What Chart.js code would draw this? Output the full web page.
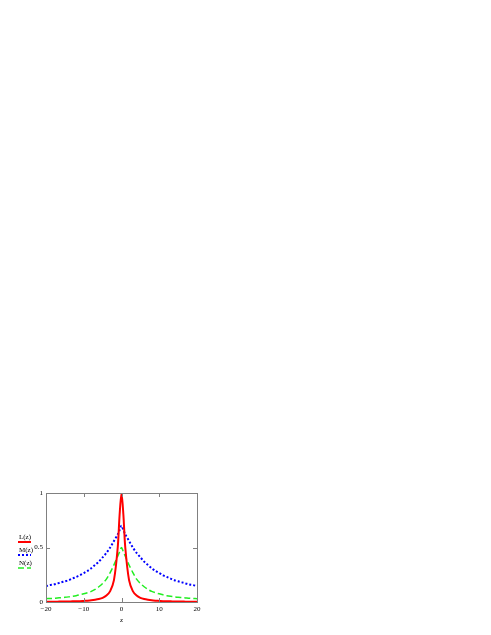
<!DOCTYPE html>
<html>
<head>
<meta charset="utf-8">
<script src="https://cdn.jsdelivr.net/npm/chart.js@4.4.0/dist/chart.umd.min.js"></script>
<style>
  html, body { margin: 0; padding: 0; background: #fff; }
  #wrap { position: absolute; left: 0; top: 0; width: 491px; height: 635px; }
</style>
</head>
<body>
<div id="wrap"><canvas id="chart" width="491" height="635"></canvas></div>
<script>
// Data
const zValues = [-20, -19, -18, -17, -16, -15, -14, -13, -12, -11, -10, -9, -8, -7, -6, -5, -4, -3, -2, -1, -0.5,
                 0, 0.5, 1, 2, 3, 4, 5, 6, 7, 8, 9, 10, 11, 12, 13, 14, 15, 16, 17, 18, 19, 20];

const lValues = [0.002, 0.003, 0.003, 0.003, 0.004, 0.004, 0.005, 0.006, 0.007, 0.008, 0.01, 0.012, 0.015, 0.02, 0.027, 0.038, 0.059, 0.1, 0.2, 0.5, 0.8,
                 1.0, 0.8, 0.5, 0.2, 0.1, 0.059, 0.038, 0.027, 0.02, 0.015, 0.012, 0.01, 0.008, 0.007, 0.006, 0.005, 0.004, 0.004, 0.003, 0.003, 0.003, 0.002];

const mValues = [0.145, 0.155, 0.16, 0.17, 0.18, 0.19, 0.2, 0.215, 0.23, 0.245, 0.265, 0.285, 0.31, 0.34, 0.37, 0.41, 0.45, 0.5, 0.56, 0.62, 0.66,
                 0.70, 0.66, 0.62, 0.56, 0.5, 0.45, 0.41, 0.37, 0.34, 0.31, 0.285, 0.265, 0.245, 0.23, 0.215, 0.2, 0.19, 0.18, 0.17, 0.16, 0.155, 0.145];

const nValues = [0.03, 0.032, 0.034, 0.037, 0.04, 0.043, 0.047, 0.052, 0.058, 0.066, 0.075, 0.085, 0.097, 0.115, 0.14, 0.17, 0.21, 0.27, 0.34, 0.42, 0.46,
                 0.50, 0.46, 0.42, 0.34, 0.27, 0.21, 0.17, 0.14, 0.115, 0.097, 0.085, 0.075, 0.066, 0.058, 0.052, 0.047, 0.043, 0.04, 0.037, 0.034, 0.032, 0.03];

const seriesNames = ['L(z)', 'M(z)', 'N(z)'];
const xTicks = [-20, -10, 0, 10, 20];
const yTicks = [0, 0.5, 1];
const xTitle = 'z';

const fontFam = '"Liberation Serif", "Times New Roman", serif';
const frameColor = '#808080';

function pts(vals) {
    return zValues.map((z, i) => ({ x: z, y: vals[i] }));
}

// frame, inward ticks and legend
const decor = {
    id: 'decor',
    afterDatasetsDraw(chart) {
        const { ctx, chartArea: a, scales } = chart;
        ctx.save();
        ctx.strokeStyle = frameColor;
        ctx.lineWidth = 1;
        ctx.strokeRect(a.left + 0.5, a.top + 0.5, a.right - a.left, a.bottom - a.top);
        ctx.beginPath();
        xTicks.forEach(t => {
            const px = Math.round(scales.x.getPixelForValue(t)) + 0.5;
            ctx.moveTo(px, a.top); ctx.lineTo(px, a.top + 4);
            ctx.moveTo(px, a.bottom); ctx.lineTo(px, a.bottom - 4);
        });
        yTicks.forEach(t => {
            const py = Math.round(scales.y.getPixelForValue(t)) + 0.5;
            ctx.moveTo(a.left, py); ctx.lineTo(a.left + 4, py);
            ctx.moveTo(a.right, py); ctx.lineTo(a.right - 4, py);
        });
        ctx.stroke();

        // legend at the left
        ctx.font = '7px ' + fontFam;
        ctx.fillStyle = '#000';
        ctx.textBaseline = 'middle';
        chart.data.datasets.forEach((ds, i) => {
            const y = 537 + i * 13;
            ctx.fillText(ds.label, 19, y);
            ctx.beginPath();
            ctx.strokeStyle = ds.borderColor;
            ctx.lineWidth = ds.borderWidth;
            ctx.setLineDash(ds.borderDash || []);
            ctx.moveTo(18, y + 5);
            ctx.lineTo(31, y + 5);
            ctx.stroke();
        });
        ctx.restore();
    }
};

new Chart(document.getElementById('chart'), {
    type: 'line',
    data: {
        datasets: [
            {
                label: seriesNames[0],
                data: pts(lValues),
                borderColor: '#ff0000',
                borderWidth: 2,
                pointRadius: 0,
                tension: 0.3
            },
            {
                label: seriesNames[1],
                data: pts(mValues),
                borderColor: '#0000ff',
                borderWidth: 2,
                borderDash: [2, 2],
                pointRadius: 0,
                tension: 0.3
            },
            {
                label: seriesNames[2],
                data: pts(nValues),
                borderColor: '#22ee22',
                borderWidth: 1.5,
                borderDash: [6, 3],
                pointRadius: 0,
                tension: 0.3
            }
        ]
    },
    options: {
        responsive: false,
        animation: false,
        layout: { padding: { left: 16, top: 493, right: 294, bottom: 11 } },
        plugins: { legend: { display: false }, tooltip: { enabled: false } },
        scales: {
            x: {
                type: 'linear',
                min: -20, max: 20,
                afterBuildTicks: s => { s.ticks = xTicks.map(v => ({ value: v })); },
                afterFit: s => { s.height = 22; },
                grid: { display: false, drawTicks: false },
                border: { display: false },
                ticks: {
                    color: '#000',
                    padding: 3,
                    font: { family: fontFam, size: 7 },
                    maxRotation: 0,
                    callback: v => String(v).replace('-', '\u2212')
                },
                title: { display: true, text: xTitle, color: '#000', padding: 0, font: { family: fontFam, size: 7 } }
            },
            y: {
                min: 0, max: 1,
                afterBuildTicks: s => { s.ticks = yTicks.map(v => ({ value: v })); },
                afterFit: s => { s.width = 30; },
                grid: { display: false, drawTicks: false },
                border: { display: false },
                ticks: {
                    color: '#000',
                    padding: 3,
                    font: { family: fontFam, size: 7 },
                    callback: v => String(v)
                }
            }
        }
    },
    plugins: [decor]
});
</script>
</body>
</html>
